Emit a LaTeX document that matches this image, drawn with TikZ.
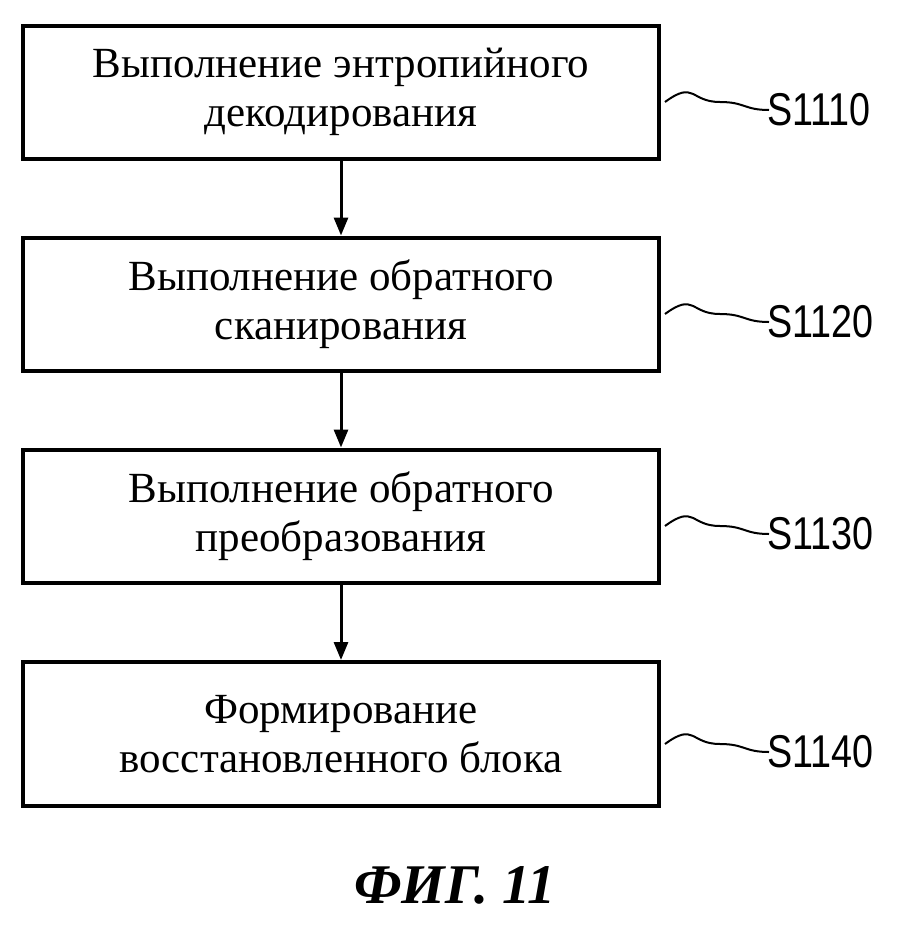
\documentclass[tikz,border=0pt]{standalone}
\usepackage{fontspec}
\setmainfont{Liberation Serif}
\newfontfamily\lblfont{Liberation Sans}
\usetikzlibrary{arrows.meta}
\begin{document}
\begin{tikzpicture}[x=1pt,y=-1pt,
  stepbox/.style={draw,line width=4pt,minimum width=636pt,align=center,font=\fontsize{43}{49}\selectfont,inner sep=0pt},
  arr/.style={line width=3pt,-{Triangle[length=18pt,width=14pt]}},
  wave/.style={line width=2pt},
  lbl/.style={font=\lblfont\fontsize{46}{48}\selectfont,anchor=west,inner sep=0pt,xscale=0.82}]
\useasboundingbox (0,0) rectangle (909,943);
\node[stepbox,minimum height=133pt] (b1) at (341,92) {Выполнение энтропийного\\декодирования};
\node[stepbox,minimum height=133pt] (b2) at (341,304) {Выполнение обратного\\сканирования};
\node[stepbox,minimum height=133pt] (b3) at (341,516) {Выполнение обратного\\преобразования};
\node[stepbox,minimum height=144pt] (b4) at (341,734) {Формирование\\восстановленного блока};
\draw[arr] (b1.south) -- (b2.north);
\draw[arr] (b2.south) -- (b3.north);
\draw[arr] (b3.south) -- (b4.north);
\foreach \b/\t in {b1/S1110,b2/S1120,b3/S1130,b4/S1140}{
  \coordinate (e\b) at ([xshift=108pt,yshift=-18pt]\b.east);
  \draw[wave] ([xshift=4pt,yshift=-10pt]\b.east) .. controls +(30,-22) and +(-30,0) .. +(55,0) .. controls +(25,0) and +(-25,0) .. (e\b);
  \node[lbl] (l\b) at ([xshift=-2pt]e\b) {\t};
}
\node[font=\bfseries\itshape\fontsize{56}{60}\selectfont] (cap) at (455,885) {ФИГ. 11};
\end{tikzpicture}
\end{document}
